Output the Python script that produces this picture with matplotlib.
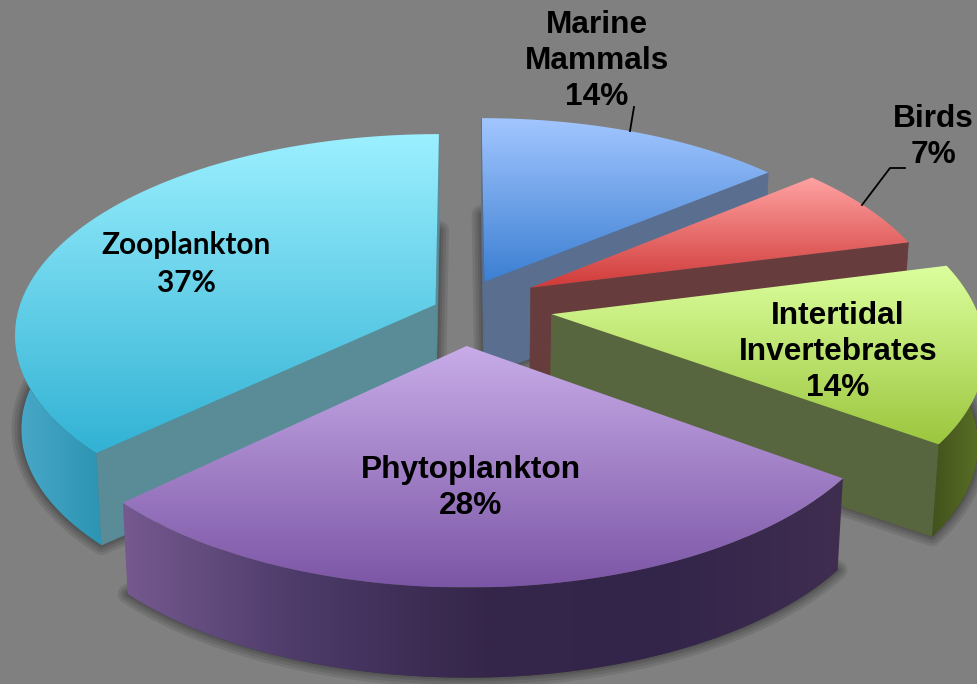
import numpy as np
import matplotlib
matplotlib.use("Agg")
import matplotlib.pyplot as plt
from matplotlib.colors import LinearSegmentedColormap
from matplotlib.patches import Polygon

labels = ["Marine\nMammals", "Birds", "Intertidal\nInvertebrates", "Phytoplankton", "Zooplankton"]
shares = [14, 7, 14, 28, 37]
explode = [0.13, 0.19, 0.22, 0.17, 0.07]
lift = [0.03, 0.03, 0.02, -0.01, 0.0]
radius = [1.0, 1.0, 1.03, 1.0, 1.01]

top_colors = [["#a2c6ff", "#3c7fd2"], ["#ffa2a2", "#cf3a38"], ["#dcff9e", "#9cc63e"],
              ["#c8ace8", "#7c56a6"], ["#9cf0ff", "#32b2d4"]]
face_colors = ["#5a6f90", "#673c3d", "#58663f", "#3a2a4c", "#5a8c98"]
rim_colors = [["#5a6f90", "#5a6f90"], ["#673c3d", "#673c3d"], ["#42521c", "#5c7226"],
              ["#75598f", "#4c3a68", "#35264a", "#33244a", "#3f2e50"], ["#4aa8c8", "#2c94b4"]]

# pie geometry in image pixels
cx, cy = 462, 310
rad_x, rad_y = 413, 195
persp = 0.145
depth = 94
shrink = 0.014

fig = plt.figure(figsize=(9.78, 6.84), dpi=100, facecolor="#808080")
ax = fig.add_axes([0, 0, 1, 1])
ax.set_facecolor("#808080")


def project(x, y, z=0.0):
    s = 1 / (1 + persp * y) * (1 - shrink * z)
    return cx + rad_x * x * s, cy - rad_y * y * s + depth * z


def fill_gradient(pts, colors, zorder, horizontal=False):
    pts = np.asarray(pts)
    cmap = LinearSegmentedColormap.from_list("g", colors)
    x0, y0 = pts.min(axis=0)
    x1, y1 = pts.max(axis=0)
    grad = np.linspace(0, 1, 256)
    grad = grad.reshape(1, -1) if horizontal else grad.reshape(-1, 1)
    im = ax.imshow(grad, cmap=cmap, extent=[x0, x1, y1, y0], aspect="auto", zorder=zorder, interpolation="bilinear")
    im.set_clip_path(Polygon(pts, closed=True, transform=ax.transData))


def signed_area(p):
    x, y = p[:, 0], p[:, 1]
    return 0.5 * np.sum(x * np.roll(y, -1) - np.roll(x, -1) * y)


def draw_slice(i, start, end, zorder):
    mid = np.radians((start + end) / 2)
    ox, oy = explode[i] * np.sin(mid), explode[i] * np.cos(mid) + lift[i]
    t = np.radians(np.linspace(start, end, 120))
    ux, uy = ox + radius[i] * np.sin(t), oy + radius[i] * np.cos(t)
    tx, ty = project(ux, uy)
    bx, by = project(ux, uy, 1.0)
    ax0, ay0 = project(ox, oy)
    bx0, by0 = project(ox, oy, 1.0)

    top = np.column_stack([np.r_[ax0, tx], np.r_[ay0, ty]])

    # soft shadow thrown by the bottom of the block
    cap = np.column_stack([np.r_[bx0, bx], np.r_[by0, by]])
    for w in (14, 10, 6, 3):
        ax.add_patch(Polygon(cap, closed=True, fc="#000000", ec="#000000", lw=w, alpha=0.09, joinstyle="round",
                             zorder=zorder))

    for k in (0, -1):
        face = np.array([[ax0, ay0], [tx[k], ty[k]], [bx[k], by[k]], [bx0, by0]])
        # only radial walls turned towards the viewer get drawn
        wall_seen = signed_area(face) > 0 if k == -1 else signed_area(face) < 0
        if wall_seen:
            ax.add_patch(Polygon(face, closed=True, fc=face_colors[i], ec=face_colors[i], lw=0.5, zorder=zorder + 0.1))

    front = np.cos(t) < 0.25
    if front.sum() > 1:
        rim = np.column_stack([np.r_[tx[front], bx[front][::-1]], np.r_[ty[front], by[front][::-1]]])
        fill_gradient(rim, rim_colors[i], zorder + 0.2, horizontal=True)
    fill_gradient(top, top_colors[i], zorder + 0.3)


edges = np.r_[0, np.cumsum(shares)] * 3.6
for n, i in enumerate([0, 1, 2, 4, 3]):
    draw_slice(i, edges[i], edges[i + 1], 2 + n)

ax.set_xlim(0, 978)
ax.set_ylim(684, 0)
ax.axis("off")

text_style = dict(ha="center", va="center", family="Liberation Sans", weight="bold", fontsize=22.8, color="black",
                  linespacing=1.26, zorder=20)
ax.text(597, 61, f"{labels[0]}\n{shares[0]}%", **text_style)
ax.text(933, 137, f"{labels[1]}\n{shares[1]}%", **text_style)
ax.text(838, 352, f"{labels[2]}\n{shares[2]}%", **text_style)
ax.text(471, 488, f"{labels[3]}\n{shares[3]}%", **text_style)
ax.text(186, 264, f"{labels[4]}\n{shares[4]}%", ha="center", va="center", family="Lato", weight="bold", fontsize=21.4,
        color="black", linespacing=1.45, zorder=20)

# leader lines
ax.plot([630, 634], [131, 107], color="black", lw=1.3, zorder=15)
ax.plot([862, 890, 905], [205, 168, 168], color="black", lw=1.3, zorder=15)

fig.savefig("out.png", dpi=100, facecolor=fig.get_facecolor())
